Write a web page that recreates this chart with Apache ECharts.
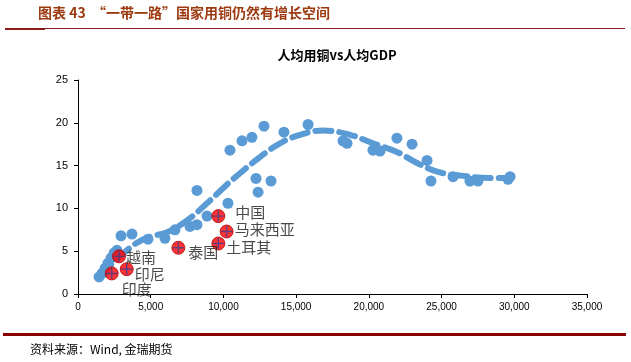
<!DOCTYPE html>
<html>
<head>
<meta charset="utf-8">
<script src="https://cdn.jsdelivr.net/npm/echarts@6/dist/echarts.min.js"></script>
<style>
html,body{margin:0;padding:0;background:#fff;}
#c{width:631px;height:362px;}
</style>
</head>
<body>
<div id="c"></div>
<script>
// Blue scatter: per-capita GDP (USD) vs per-capita copper use (kg)
const gdpX = [1450,1650,1860,2060,2270,2480,2680,2960,3710,4810,5980,6670,7700,8180,8870,8180,10310,10450,11280,11960,12790,14160,12240,13270,12380,15820,18220,18500,20280,20770,21930,22970,24000,24270,25790,26950,27500,29570,29710];
const copperY = [2.0,2.4,3.0,3.6,4.2,4.8,5.1,6.8,7.0,6.4,6.5,7.5,7.9,8.1,9.1,12.1,10.6,16.8,17.9,18.3,19.6,18.9,13.5,13.2,11.9,19.8,17.9,17.6,16.8,16.7,18.2,17.5,15.6,13.2,13.7,13.2,13.2,13.4,13.7];

// Trend line (dashed)
const trendX = [1500,2890,4060,4950,6120,7500,8870,10250,11140,12510,13890,15270,16850,18700,20280,21930,23310,24890,26470,28330,29700];
const trendY = [2.1,4.4,6.0,6.7,7.2,8.6,10.6,12.8,14.1,16.0,17.6,18.6,19.1,18.6,17.6,16.6,15.3,14.2,13.8,13.55,13.55];

// Belt & Road countries (red markers)
const countries = ['印度','越南','印尼','泰国','土耳其','马来西亚','中国'];
const countryX = [2320,2820,3350,6900,9650,10220,9650];
const countryY = [2.4,4.4,2.9,5.4,5.9,7.3,9.1];

const xTicks = [0,5000,10000,15000,20000,25000,30000,35000];
const yTicks = [0,5,10,15,20,25];

const labelOffsets = {
  '印度':[25,-3,'bottom'],
  '越南':[-4,1,'right'],
  '印尼':[-3,5,'right'],
  '泰国':[-1,5,'right'],
  '土耳其':[-3,4,'right'],
  '马来西亚':[-3,-2,'right'],
  '中国':[6,-4,'right']
};

const blue = '#5B9BD5';
const chart = echarts.init(document.getElementById('c'), null, {renderer:'canvas'});

const countryData = countries.map((n,i)=>{
  const o = labelOffsets[n];
  return {
    name:n, value:[countryX[i], countryY[i]],
    label:{show:true, position:o[2], offset:[o[0],o[1]], formatter:'{b}'}
  };
});

chart.setOption({
  animation:false,
  backgroundColor:'#fff',
  title:{
    text:'人均用铜vs人均GDP',
    left:332, top:44, textAlign:'center',
    textStyle:{fontSize:13, fontWeight:'bold', color:'#000', fontFamily:'Noto Sans CJK SC'}
  },
  grid:{left:78, right:44, top:80, bottom:68, containLabel:false},
  xAxis:{
    type:'value', min:xTicks[0], max:xTicks[xTicks.length-1], interval:5000,
    splitLine:{show:false},
    axisLine:{show:true, lineStyle:{color:'#000', width:1}},
    axisTick:{show:true, length:4, lineStyle:{color:'#000'}},
    axisLabel:{color:'#000', fontSize:10, fontFamily:'Liberation Sans', margin:8,
      formatter:v=>v.toLocaleString('en-US')}
  },
  yAxis:{
    type:'value', min:yTicks[0], max:yTicks[yTicks.length-1], interval:5,
    splitLine:{show:false},
    axisLine:{show:true, lineStyle:{color:'#000', width:1}},
    axisTick:{show:true, length:4, lineStyle:{color:'#000'}},
    axisLabel:{color:'#000', fontSize:11, fontFamily:'Liberation Sans', margin:10}
  },
  series:[
    {
      type:'scatter', symbol:'circle', symbolSize:11,
      itemStyle:{color:blue, opacity:1},
      data: gdpX.map((x,i)=>[x, copperY[i]]), z:2
    },
    {
      type:'line', smooth:0.4, showSymbol:false, symbol:'none',
      lineStyle:{color:blue, width:6, type:[16,8], cap:'round'},
      data: trendX.map((x,i)=>[x, trendY[i]]), z:3
    },
    {
      type:'scatter', symbol:'circle', symbolSize:13,
      itemStyle:{color:'#FF0000', borderColor:'#B00000', borderWidth:1},
      label:{color:'#1a1a1a', fontSize:15, fontFamily:'Noto Sans CJK SC', distance:4},
      data: countryData, z:4
    },
    {
      type:'scatter',
      symbol:'path://M-0.7,-5.5 L0.7,-5.5 L0.7,-0.7 L5.5,-0.7 L5.5,0.7 L0.7,0.7 L0.7,5.5 L-0.7,5.5 L-0.7,0.7 L-5.5,0.7 L-5.5,-0.7 L-0.7,-0.7 Z',
      symbolSize:11,
      itemStyle:{color:'#3a3f8f'},
      data: countryX.map((x,i)=>[x, countryY[i]]), z:5, silent:true
    }
  ],
  graphic:[
    {type:'text', left:38, top:6, style:{text:'图表 43  “一带一路”国家用铜仍然有增长空间', fill:'#9C3A10', font:'bold 14px "Noto Sans CJK SC"'}},
    {type:'rect', shape:{x:5, y:28, width:620, height:1}, style:{fill:'#8B1A1A'}},
    {type:'rect', shape:{x:5, y:28, width:40, height:2}, style:{fill:'#8B1A1A'}},
    {type:'rect', shape:{x:3, y:333, width:623, height:3}, style:{fill:'#8B0000'}},
    {type:'text', left:30, top:343, style:{text:'资料来源：Wind, 金瑞期货', fill:'#000', font:'12px "Noto Sans CJK SC"'}}
  ]
});
</script>
</body>
</html>
